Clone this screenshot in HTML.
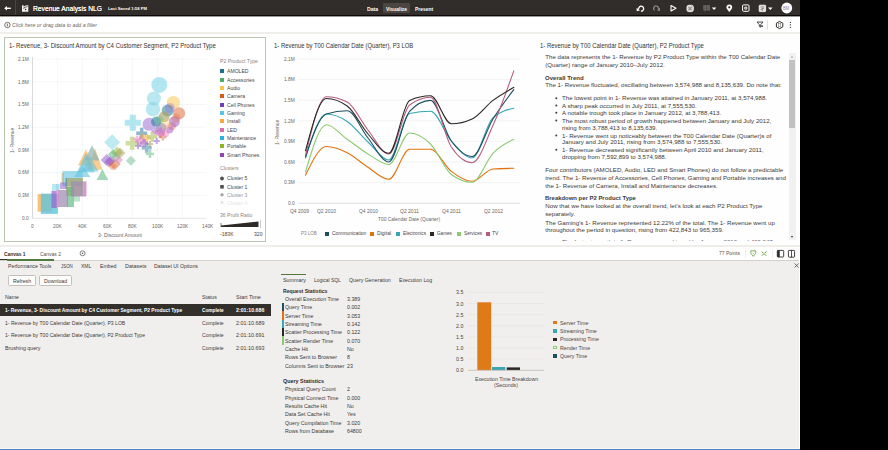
<!DOCTYPE html><html><head><meta charset="utf-8"><style>
html,body{margin:0;padding:0;width:888px;height:450px;overflow:hidden;background:#000;}
body{position:relative;font-family:"Liberation Sans",sans-serif;}
.t{position:absolute;white-space:nowrap;transform-origin:0 0;}
.r{position:absolute;}
svg{position:absolute;left:0;top:0;overflow:visible;}
</style></head><body>
<div class="r" style="left:0px;top:0px;width:800px;height:15px;background:#312d2a;"></div>
<div class="r" style="left:0px;top:15px;width:800px;height:1px;background:#0b0807;"></div>
<div class="r" style="left:0px;top:16px;width:800px;height:1px;background:#9b9895;"></div>
<div class="r" style="left:14.6px;top:0px;width:1px;height:15px;background:#4a4542;"></div>
<div class="t" style="left:33.20px;top:4px;font-size:7.8px;line-height:10.14px;color:#fff;font-weight:400;transform:scaleX(0.860);text-shadow:0 0 0.3px #fff;">Revenue Analysis NLG</div>
<div class="t" style="left:108.00px;top:6px;font-size:4.4px;line-height:5.72px;color:#fff;font-weight:700;transform:scaleX(0.949);">Last Saved 1:58 PM</div>
<div class="r" style="left:383px;top:3px;width:27px;height:10px;background:#4b4642;border-radius:1px;"></div>
<div class="t" style="left:366.60px;top:6px;font-size:5.6px;line-height:7.28px;color:#fff;font-weight:700;transform:scaleX(0.923);">Data</div>
<div class="t" style="left:386.00px;top:6px;font-size:5.6px;line-height:7.28px;color:#fff;font-weight:700;transform:scaleX(0.880);">Visualize</div>
<div class="t" style="left:414.80px;top:6px;font-size:5.6px;line-height:7.28px;color:#fff;font-weight:700;transform:scaleX(0.886);">Present</div>
<div class="r" style="left:0px;top:17px;width:800px;height:15px;background:#ffffff;"></div>
<div class="r" style="left:0px;top:32px;width:800px;height:2px;background:#f0eeeb;"></div>
<div class="t" style="left:12.40px;top:22px;font-size:6.0px;line-height:7.8px;color:#6b6661;font-weight:400;transform:scaleX(0.876);font-style:italic;">Click here or drag data to add a filter</div>
<div class="r" style="left:0px;top:34px;width:800px;height:211px;background:#fefefe;"></div>
<div class="r" style="left:0px;top:245px;width:800px;height:2px;background:#f0eeeb;"></div>
<div class="r" style="left:4px;top:37px;width:261.5px;height:204.5px;background:#ffffff;box-sizing:border-box;border:1px solid #b9c6b1;"></div>
<div class="t" style="left:9.00px;top:42px;font-size:6.6px;line-height:8.58px;color:#36322e;font-weight:400;transform:scaleX(0.918);">1- Revenue, 3- Discount Amount by C4 Customer Segment, P2 Product Type</div>
<svg width="888" height="450" viewBox="0 0 888 450">
<line x1="32.5" y1="218.0" x2="206.5" y2="218.0" stroke="#edf0f1" stroke-width="0.6"/>
<line x1="32.5" y1="195.3" x2="206.5" y2="195.3" stroke="#edf0f1" stroke-width="0.6"/>
<line x1="32.5" y1="172.6" x2="206.5" y2="172.6" stroke="#edf0f1" stroke-width="0.6"/>
<line x1="32.5" y1="149.9" x2="206.5" y2="149.9" stroke="#edf0f1" stroke-width="0.6"/>
<line x1="32.5" y1="127.2" x2="206.5" y2="127.2" stroke="#edf0f1" stroke-width="0.6"/>
<line x1="32.5" y1="104.5" x2="206.5" y2="104.5" stroke="#edf0f1" stroke-width="0.6"/>
<line x1="32.5" y1="81.8" x2="206.5" y2="81.8" stroke="#edf0f1" stroke-width="0.6"/>
<line x1="32.5" y1="59.1" x2="206.5" y2="59.1" stroke="#edf0f1" stroke-width="0.6"/>
<line x1="57.3" y1="57" x2="57.3" y2="218" stroke="#edf0f1" stroke-width="0.6"/>
<line x1="82.3" y1="57" x2="82.3" y2="218" stroke="#edf0f1" stroke-width="0.6"/>
<line x1="107.3" y1="57" x2="107.3" y2="218" stroke="#edf0f1" stroke-width="0.6"/>
<line x1="132.3" y1="57" x2="132.3" y2="218" stroke="#edf0f1" stroke-width="0.6"/>
<line x1="157.3" y1="57" x2="157.3" y2="218" stroke="#edf0f1" stroke-width="0.6"/>
<line x1="182.3" y1="57" x2="182.3" y2="218" stroke="#edf0f1" stroke-width="0.6"/>
<line x1="207.3" y1="57" x2="207.3" y2="218" stroke="#edf0f1" stroke-width="0.6"/>
<line x1="32.5" y1="57" x2="32.5" y2="218.5" stroke="#cfcfcf" stroke-width="0.8"/>
<line x1="31.5" y1="218.4" x2="206.5" y2="218.4" stroke="#dcdcdc" stroke-width="0.6"/>
<rect x="37.6" y="194.1" width="14.4" height="17.6" fill="#f9ad45" fill-opacity="0.75"/>
<rect x="40.8" y="193.6" width="17.1" height="20.3" fill="#62c3de" fill-opacity="0.8"/>
<rect x="52" y="184" width="6.9" height="6.9" fill="#7fd6e6" fill-opacity="0.55"/>
<rect x="56" y="184" width="4.0" height="6.0" fill="#7fd6e6" fill-opacity="0.4"/>
<rect x="61.5" y="173" width="2.5" height="11.0" fill="#f9ad45" fill-opacity="0.6"/>
<rect x="62.5" y="171" width="20.0" height="15.0" fill="#62c3de" fill-opacity="0.6"/>
<rect x="66" y="178" width="17.0" height="18.0" fill="#a89f5a" fill-opacity="0.65"/>
<rect x="65.5" y="178" width="1.5" height="11.0" fill="#2f7ea3" fill-opacity="0.5"/>
<rect x="60" y="182.5" width="6.0" height="6.5" fill="#9363cf" fill-opacity="0.55"/>
<rect x="67" y="187" width="7.0" height="20.0" fill="#5bb87e" fill-opacity="0.65"/>
<rect x="73.5" y="196" width="6.5" height="5.5" fill="#5bb87e" fill-opacity="0.4"/>
<rect x="71" y="181.5" width="15.0" height="15.0" fill="#a060c6" fill-opacity="0.45"/>
<rect x="71" y="181.5" width="15.0" height="15.0" fill="#9aa6a8" fill-opacity="0.35"/>
<rect x="84" y="181.5" width="3.0" height="14.5" fill="#e482c1" fill-opacity="0.4"/>
<rect x="58" y="190" width="10.0" height="17.0" fill="#a060c6" fill-opacity="0.5"/>
<rect x="58" y="190" width="10.0" height="17.0" fill="#9aa6a8" fill-opacity="0.45"/>
<rect x="51.5" y="191" width="5.3" height="17.0" fill="#9363cf" fill-opacity="0.7"/>
<rect x="56.3" y="190" width="2.7" height="17.0" fill="#e482c1" fill-opacity="0.55"/>
<polygon points="85.9,149.6 78.0,165.5 93.80000000000001,165.5" fill="#f9ad45" fill-opacity="0.65"/>
<polygon points="95,148.3 87.5,169.7 102.5,169.7" fill="#f9ad45" fill-opacity="0.6"/>
<polygon points="92,145.3 84.4,160.6 99.6,160.6" fill="#8fb3b3" fill-opacity="0.7"/>
<polygon points="85.9,153.2 77.10000000000001,172.2 94.7,172.2" fill="#62c3de" fill-opacity="0.6"/>
<polygon points="90.2,156.3 81.7,171.6 98.7,171.6" fill="#62c3de" fill-opacity="0.55"/>
<polygon points="82.2,165.5 73.9,177 90.5,177" fill="#62c3de" fill-opacity="0.6"/>
<polygon points="102.4,169.1 96.60000000000001,180.1 108.2,180.1" fill="#5bb87e" fill-opacity="0.55"/>
<polygon points="112.2,134.2 120.2,142.2 112.2,150.2 104.2,142.2" fill="#7fd6e6" fill-opacity="0.5"/>
<polygon points="106.7,154 112.7,160 106.7,166 100.7,160" fill="#9363cf" fill-opacity="0.55"/>
<polygon points="117,146.6 123,152.6 117,158.6 111,152.6" fill="#a0be45" fill-opacity="0.55"/>
<polygon points="112.8,149.4 117.8,154.4 112.8,159.4 107.8,154.4" fill="#5bb87e" fill-opacity="0.55"/>
<polygon points="114.6,158.2 120.6,164.2 114.6,170.2 108.6,164.2" fill="#e0703f" fill-opacity="0.55"/>
<polygon points="110.3,156.2 115.3,161.2 110.3,166.2 105.3,161.2" fill="#a060c6" fill-opacity="0.55"/>
<polygon points="119,156 123,160 119,164 115,160" fill="#e482c1" fill-opacity="0.55"/>
<polygon points="109,157 114,162 109,167 104,162" fill="#a060c6" fill-opacity="0.45"/>
<polygon points="120,147.5 125.5,153 120,158.5 114.5,153" fill="#a89f5a" fill-opacity="0.5"/>
<polygon points="112,161.5 116.5,166 112,170.5 107.5,166" fill="#e0703f" fill-opacity="0.4"/>
<polygon points="116,153.5 120.5,158 116,162.5 111.5,158" fill="#9aa6a8" fill-opacity="0.4"/>
<polygon points="130.9,155.7 135.9,160.7 130.9,165.7 125.9,160.7" fill="#5bb87e" fill-opacity="0.45"/>
<path d="M129.8,114.8h6v5.0h5.0v6h-5.0v5.0h-6v-5.0h-5.0v-6h5.0z" fill="#7fd6e6" fill-opacity="0.6"/>
<path d="M129.95,136.8h4.5v4.25h4.25v4.5h-4.25v4.25h-4.5v-4.25h-4.25v-4.5h4.25z" fill="#a0be45" fill-opacity="0.5"/>
<path d="M139.95,127.80000000000001h3.5v3.75h3.75v3.5h-3.75v3.75h-3.5v-3.75h-3.75v-3.5h3.75z" fill="#2f7ea3" fill-opacity="0.55"/>
<path d="M138.85,135.6h3.5v3.75h3.75v3.5h-3.75v3.75h-3.5v-3.75h-3.75v-3.5h3.75z" fill="#e482c1" fill-opacity="0.55"/>
<path d="M145.2,134.3h3v2.5h2.5v3h-2.5v2.5h-3v-2.5h-2.5v-3h2.5z" fill="#f9ad45" fill-opacity="0.55"/>
<path d="M150.45,131.7h3.5v3.25h3.25v3.5h-3.25v3.25h-3.5v-3.25h-3.25v-3.5h3.25z" fill="#a0be45" fill-opacity="0.55"/>
<path d="M155.7,138.1h2v2.0h2.0v2h-2.0v2.0h-2v-2.0h-2.0v-2h2.0z" fill="#9363cf" fill-opacity="0.55"/>
<path d="M144.95,142.8h3.5v3.25h3.25v3.5h-3.25v3.25h-3.5v-3.25h-3.25v-3.5h3.25z" fill="#2f7ea3" fill-opacity="0.5"/>
<path d="M148.75,149.9h2.5v2.75h2.75v2.5h-2.75v2.75h-2.5v-2.75h-2.75v-2.5h2.75z" fill="#5bb87e" fill-opacity="0.5"/>
<path d="M158.25,127.80000000000001h3.5v3.25h3.25v3.5h-3.25v3.25h-3.5v-3.25h-3.25v-3.5h3.25z" fill="#e482c1" fill-opacity="0.55"/>
<path d="M142.5,139h3v2.5h2.5v3h-2.5v2.5h-3v-2.5h-2.5v-3h2.5z" fill="#a060c6" fill-opacity="0.55"/>
<path d="M137.0,143h2v2.0h2.0v2h-2.0v2.0h-2v-2.0h-2.0v-2h2.0z" fill="#9363cf" fill-opacity="0.55"/>
<path d="M149.0,141h2v2.0h2.0v2h-2.0v2.0h-2v-2.0h-2.0v-2h2.0z" fill="#a89f5a" fill-opacity="0.55"/>
<path d="M159.0,130h3v2.5h2.5v3h-2.5v2.5h-3v-2.5h-2.5v-3h2.5z" fill="#e482c1" fill-opacity="0.6"/>
<path d="M161.75,133.5h2.5v2.25h2.25v2.5h-2.25v2.25h-2.5v-2.25h-2.25v-2.5h2.25z" fill="#e0703f" fill-opacity="0.5"/>
<path d="M153.75,127.5h2.5v2.25h2.25v2.5h-2.25v2.25h-2.5v-2.25h-2.25v-2.5h2.25z" fill="#a060c6" fill-opacity="0.5"/>
<path d="M135.75,135.5h2.5v2.25h2.25v2.5h-2.25v2.25h-2.5v-2.25h-2.25v-2.5h2.25z" fill="#e482c1" fill-opacity="0.5"/>
<path d="M141.9,133h2.2v1.9h1.9v2.2h-1.9v1.9h-2.2v-1.9h-1.9v-2.2h1.9z" fill="#f9ad45" fill-opacity="0.5"/>
<circle cx="166" cy="134" r="3" fill="#e482c1" fill-opacity="0.45"/>
<circle cx="172" cy="126" r="4" fill="#e0703f" fill-opacity="0.4"/>
<circle cx="159.3" cy="84.9" r="8" fill="#7fd6e6" fill-opacity="0.6"/>
<circle cx="153.9" cy="98.5" r="7.1" fill="#7fd6e6" fill-opacity="0.55"/>
<circle cx="153" cy="109.2" r="7.2" fill="#7fd6e6" fill-opacity="0.55"/>
<circle cx="173.4" cy="102.6" r="6.7" fill="#f8c95a" fill-opacity="0.55"/>
<circle cx="179.2" cy="113.2" r="6" fill="#e0703f" fill-opacity="0.55"/>
<circle cx="167.7" cy="110.6" r="6" fill="#2f7ea3" fill-opacity="0.55"/>
<circle cx="170" cy="108" r="5" fill="#9363cf" fill-opacity="0.3"/>
<circle cx="149" cy="124.3" r="6.5" fill="#9363cf" fill-opacity="0.5"/>
<circle cx="156.1" cy="121.7" r="5" fill="#2f7ea3" fill-opacity="0.6"/>
<circle cx="164.1" cy="116.8" r="5.5" fill="#a89f5a" fill-opacity="0.6"/>
<circle cx="174.3" cy="121.7" r="5.5" fill="#a060c6" fill-opacity="0.55"/>
<circle cx="176" cy="118" r="4.5" fill="#e0703f" fill-opacity="0.35"/>
<circle cx="161" cy="127.9" r="5.5" fill="#9aa6a8" fill-opacity="0.5"/>
<circle cx="161" cy="127.9" r="5" fill="#9363cf" fill-opacity="0.35"/>
<circle cx="169" cy="128.8" r="4.5" fill="#e482c1" fill-opacity="0.45"/>
<circle cx="161" cy="132.3" r="4" fill="#e482c1" fill-opacity="0.5"/>
<circle cx="159" cy="120" r="4.5" fill="#5bb87e" fill-opacity="0.35"/>
<circle cx="166" cy="124" r="5" fill="#f8c95a" fill-opacity="0.3"/>
<circle cx="170" cy="130" r="3.5" fill="#9363cf" fill-opacity="0.35"/>
</svg>
<div class="t" style="left:21.84px;top:215px;font-size:5.4px;line-height:7.02px;color:#6b6661;font-weight:400;transform:scaleX(0.900);">0.0</div>
<div class="t" style="left:17.80px;top:192px;font-size:5.4px;line-height:7.02px;color:#6b6661;font-weight:400;transform:scaleX(0.900);">0.3M</div>
<div class="t" style="left:17.80px;top:169px;font-size:5.4px;line-height:7.02px;color:#6b6661;font-weight:400;transform:scaleX(0.900);">0.6M</div>
<div class="t" style="left:17.80px;top:147px;font-size:5.4px;line-height:7.02px;color:#6b6661;font-weight:400;transform:scaleX(0.900);">0.9M</div>
<div class="t" style="left:17.80px;top:124px;font-size:5.4px;line-height:7.02px;color:#6b6661;font-weight:400;transform:scaleX(0.900);">1.2M</div>
<div class="t" style="left:17.80px;top:101px;font-size:5.4px;line-height:7.02px;color:#6b6661;font-weight:400;transform:scaleX(0.900);">1.5M</div>
<div class="t" style="left:17.80px;top:79px;font-size:5.4px;line-height:7.02px;color:#6b6661;font-weight:400;transform:scaleX(0.900);">1.8M</div>
<div class="t" style="left:17.80px;top:56px;font-size:5.4px;line-height:7.02px;color:#6b6661;font-weight:400;transform:scaleX(0.900);">2.1M</div>
<div class="t" style="left:30.95px;top:223px;font-size:5.4px;line-height:7.02px;color:#6b6661;font-weight:400;transform:scaleX(0.900);">0</div>
<div class="t" style="left:52.98px;top:223px;font-size:5.4px;line-height:7.02px;color:#6b6661;font-weight:400;transform:scaleX(0.900);">20K</div>
<div class="t" style="left:77.98px;top:223px;font-size:5.4px;line-height:7.02px;color:#6b6661;font-weight:400;transform:scaleX(0.900);">40K</div>
<div class="t" style="left:102.98px;top:223px;font-size:5.4px;line-height:7.02px;color:#6b6661;font-weight:400;transform:scaleX(0.900);">60K</div>
<div class="t" style="left:127.98px;top:223px;font-size:5.4px;line-height:7.02px;color:#6b6661;font-weight:400;transform:scaleX(0.900);">80K</div>
<div class="t" style="left:151.62px;top:223px;font-size:5.4px;line-height:7.02px;color:#6b6661;font-weight:400;transform:scaleX(0.900);">100K</div>
<div class="t" style="left:176.62px;top:223px;font-size:5.4px;line-height:7.02px;color:#6b6661;font-weight:400;transform:scaleX(0.900);">120K</div>
<div class="t" style="left:201.62px;top:223px;font-size:5.4px;line-height:7.02px;color:#6b6661;font-weight:400;transform:scaleX(0.900);">140K</div>
<div class="t" style="left:97.60px;top:232px;font-size:5.6px;line-height:7.28px;color:#6b6661;font-weight:400;transform:scaleX(0.900);">3- Discount Amount</div>
<div class="t" style="left:8.5px;top:153px;font-size:5.4px;line-height:7px;color:#6b6661;transform:rotate(-90deg) scaleX(0.9);transform-origin:0 0;">1- Revenue</div>
<div class="r" style="left:207px;top:55px;width:57px;height:162px;background:#ffffff;"></div>
<div class="t" style="left:220.00px;top:58px;font-size:5.6px;line-height:7.28px;color:#8a8580;font-weight:400;transform:scaleX(0.920);">P2 Product Type</div>
<div class="r" style="left:220px;top:69.4px;width:4px;height:4px;background:#1e7088;"></div>
<div class="t" style="left:227.00px;top:68px;font-size:5.6px;line-height:7.28px;color:#4a4541;font-weight:400;transform:scaleX(0.910);">AMOLED</div>
<div class="r" style="left:220px;top:77.73px;width:4px;height:4px;background:#4cae6b;"></div>
<div class="t" style="left:227.00px;top:77px;font-size:5.6px;line-height:7.28px;color:#4a4541;font-weight:400;transform:scaleX(0.910);">Accessories</div>
<div class="r" style="left:220px;top:86.06px;width:4px;height:4px;background:#f7c64c;"></div>
<div class="t" style="left:227.00px;top:85px;font-size:5.6px;line-height:7.28px;color:#4a4541;font-weight:400;transform:scaleX(0.910);">Audio</div>
<div class="r" style="left:220px;top:94.39000000000001px;width:4px;height:4px;background:#d65a1e;"></div>
<div class="t" style="left:227.00px;top:93px;font-size:5.6px;line-height:7.28px;color:#4a4541;font-weight:400;transform:scaleX(0.910);">Camera</div>
<div class="r" style="left:220px;top:102.72px;width:4px;height:4px;background:#6f3fc2;"></div>
<div class="t" style="left:227.00px;top:102px;font-size:5.6px;line-height:7.28px;color:#4a4541;font-weight:400;transform:scaleX(0.910);">Cell Phones</div>
<div class="r" style="left:220px;top:111.05000000000001px;width:4px;height:4px;background:#5ac5e3;"></div>
<div class="t" style="left:227.00px;top:110px;font-size:5.6px;line-height:7.28px;color:#4a4541;font-weight:400;transform:scaleX(0.910);">Gaming</div>
<div class="r" style="left:220px;top:119.38000000000001px;width:4px;height:4px;background:#f9a93a;"></div>
<div class="t" style="left:227.00px;top:118px;font-size:5.6px;line-height:7.28px;color:#4a4541;font-weight:400;transform:scaleX(0.910);">Install</div>
<div class="r" style="left:220px;top:127.71000000000001px;width:4px;height:4px;background:#dd6ab0;"></div>
<div class="t" style="left:227.00px;top:127px;font-size:5.6px;line-height:7.28px;color:#4a4541;font-weight:400;transform:scaleX(0.910);">LED</div>
<div class="r" style="left:220px;top:136.04000000000002px;width:4px;height:4px;background:#2bb0e8;"></div>
<div class="t" style="left:227.00px;top:135px;font-size:5.6px;line-height:7.28px;color:#4a4541;font-weight:400;transform:scaleX(0.910);">Maintenance</div>
<div class="r" style="left:220px;top:144.37px;width:4px;height:4px;background:#8fb323;"></div>
<div class="t" style="left:227.00px;top:143px;font-size:5.6px;line-height:7.28px;color:#4a4541;font-weight:400;transform:scaleX(0.910);">Portable</div>
<div class="r" style="left:220px;top:152.7px;width:4px;height:4px;background:#8e45b6;"></div>
<div class="t" style="left:227.00px;top:152px;font-size:5.6px;line-height:7.28px;color:#4a4541;font-weight:400;transform:scaleX(0.910);">Smart Phones</div>
<div class="t" style="left:220.00px;top:165px;font-size:5.6px;line-height:7.28px;color:#8a8580;font-weight:400;transform:scaleX(0.910);">Clusters</div>
<svg width="888" height="450"><circle cx="222" cy="178.5" r="1.9" fill="#55504b"/><rect x="220.2" y="185" width="3.6" height="3.6" fill="#55504b"/><path d="M221.4,193 h1.2 v1.2 h1.2 v1.2 h-1.2 v1.2 h-1.2 v-1.2 h-1.2 v-1.2 h1.2z" fill="#9a9590"/><path d="M222,200.5 l1.8,3 h-3.6z" fill="#dedbd8"/></svg>
<div class="t" style="left:227.00px;top:175px;font-size:5.6px;line-height:7.28px;color:#4a4541;font-weight:400;transform:scaleX(0.910);">Cluster 5</div>
<div class="t" style="left:227.00px;top:184px;font-size:5.6px;line-height:7.28px;color:#4a4541;font-weight:400;transform:scaleX(0.910);">Cluster 1</div>
<div class="t" style="left:227.00px;top:192px;font-size:5.6px;line-height:7.28px;color:#9a9590;font-weight:400;transform:scaleX(0.910);">Cluster 3</div>
<div class="t" style="left:227.00px;top:200px;font-size:5.6px;line-height:7.28px;color:#e6e4e1;font-weight:400;transform:scaleX(0.910);">Cluster 4</div>
<div class="r" style="left:207px;top:205px;width:57px;height:6px;background:#ffffff;opacity:0.6;"></div>
<div class="t" style="left:220.00px;top:212px;font-size:5.6px;line-height:7.28px;color:#8a8580;font-weight:400;transform:scaleX(0.910);">36 Profit Ratio</div>
<svg width="888" height="450"><path d="M221,225.5 L258.5,221.5 L258.5,227 L221,227 Z" fill="#2e2a26"/><line x1="221" y1="223" x2="221" y2="227" stroke="#2e2a26" stroke-width="0.6"/><line x1="260.5" y1="220.5" x2="260.5" y2="227.5" stroke="#2e2a26" stroke-width="0.5" stroke-dasharray="1,1"/></svg>
<div class="t" style="left:220.00px;top:231px;font-size:5.6px;line-height:7.28px;color:#4a4541;font-weight:400;transform:scaleX(0.910);">-183K</div>
<div class="t" style="left:253.50px;top:231px;font-size:5.6px;line-height:7.28px;color:#4a4541;font-weight:400;transform:scaleX(0.910);">320</div>
<div class="t" style="left:273.80px;top:42px;font-size:6.6px;line-height:8.58px;color:#36322e;font-weight:400;transform:scaleX(0.895);">1- Revenue by T00 Calendar Date (Quarter), P3 LOB</div>
<svg width="888" height="450" viewBox="0 0 888 450">
<line x1="298.5" y1="182.6" x2="520" y2="182.6" stroke="#ebebeb" stroke-width="0.6"/>
<line x1="298.5" y1="162.0" x2="520" y2="162.0" stroke="#ebebeb" stroke-width="0.6"/>
<line x1="298.5" y1="141.4" x2="520" y2="141.4" stroke="#ebebeb" stroke-width="0.6"/>
<line x1="298.5" y1="120.8" x2="520" y2="120.8" stroke="#ebebeb" stroke-width="0.6"/>
<line x1="298.5" y1="100.2" x2="520" y2="100.2" stroke="#ebebeb" stroke-width="0.6"/>
<line x1="298.5" y1="79.6" x2="520" y2="79.6" stroke="#ebebeb" stroke-width="0.6"/>
<line x1="298.5" y1="59.0" x2="520" y2="59.0" stroke="#ebebeb" stroke-width="0.6"/>
<line x1="298.5" y1="203.3" x2="520" y2="203.3" stroke="#cfcfcf" stroke-width="0.7"/>
<path d="M305.5,175.3 C312.44,160.90 319.39,146.50 326.3,146.5 C333.27,146.50 340.22,149.23 347.2,152.7 C354.10,156.17 361.05,162.87 368.0,167.3 C374.93,171.73 381.88,179.30 388.8,179.3 C395.76,179.30 402.71,149.30 409.6,149.3 C416.59,149.30 423.54,149.30 430.5,149.3 C437.42,149.30 444.37,166.07 451.3,171.4 C458.25,176.73 465.20,181.30 472.1,181.3 C479.08,181.30 486.03,169.47 493.0,169.0 C499.91,168.53 506.86,168.42 513.8,168.3" fill="none" stroke="#e2720f" stroke-width="1.1" stroke-linejoin="round" stroke-linecap="round"/>
<path d="M305.5,172.0 C312.44,148.35 319.39,124.70 326.3,124.7 C333.27,124.70 340.22,134.42 347.2,139.3 C354.10,144.18 361.05,149.80 368.0,154.0 C374.93,158.20 381.88,164.50 388.8,164.5 C395.76,164.50 402.71,133.00 409.6,133.0 C416.59,133.00 423.54,137.08 430.5,144.0 C437.42,150.92 444.37,169.30 451.3,174.5 C458.25,179.70 465.20,182.30 472.1,182.3 C479.08,182.30 486.03,160.47 493.0,153.3 C499.91,146.13 506.86,142.72 513.8,139.3" fill="none" stroke="#8dc872" stroke-width="1.1" stroke-linejoin="round" stroke-linecap="round"/>
<path d="M305.5,158.0 C312.44,136.00 319.39,114.00 326.3,114.0 C333.27,114.00 340.22,116.83 347.2,121.5 C354.10,126.17 361.05,135.58 368.0,142.0 C374.93,148.42 381.88,160.00 388.8,160.0 C395.76,160.00 402.71,114.97 409.6,113.5 C416.59,112.03 423.54,111.30 430.5,111.3 C437.42,111.30 444.37,133.22 451.3,141.0 C458.25,148.78 465.20,158.00 472.1,158.0 C479.08,158.00 486.03,123.87 493.0,117.6 C499.91,111.33 506.86,109.77 513.8,108.2" fill="none" stroke="#35a7b5" stroke-width="1.1" stroke-linejoin="round" stroke-linecap="round"/>
<path d="M305.5,156.7 C312.44,136.42 319.39,116.13 326.3,114.0 C333.27,111.87 340.22,110.80 347.2,110.8 C354.10,110.80 361.05,129.47 368.0,138.0 C374.93,146.53 381.88,162.00 388.8,162.0 C395.76,162.00 402.71,118.57 409.6,111.3 C416.59,104.03 423.54,100.40 430.5,100.4 C437.42,100.40 444.37,131.65 451.3,141.0 C458.25,150.35 465.20,156.50 472.1,156.5 C479.08,156.50 486.03,130.15 493.0,119.0 C499.91,107.85 506.86,98.72 513.8,89.6" fill="none" stroke="#1d4f5f" stroke-width="1.1" stroke-linejoin="round" stroke-linecap="round"/>
<path d="M305.5,155.3 C312.44,126.00 319.39,96.70 326.3,96.7 C333.27,96.70 340.22,98.47 347.2,102.0 C354.10,105.53 361.05,121.33 368.0,130.0 C374.93,138.67 381.88,154.00 388.8,154.0 C395.76,154.00 402.71,110.13 409.6,105.0 C416.59,99.87 423.54,97.30 430.5,97.3 C437.42,97.30 444.37,136.53 451.3,147.0 C458.25,157.47 465.20,162.70 472.1,162.7 C479.08,162.70 486.03,140.60 493.0,125.3 C499.91,110.00 506.86,90.45 513.8,70.9" fill="none" stroke="#b85c7e" stroke-width="1.1" stroke-linejoin="round" stroke-linecap="round"/>
<path d="M305.5,150.8 C312.44,124.65 319.39,98.50 326.3,98.5 C333.27,98.50 340.22,101.00 347.2,106.0 C354.10,111.00 361.05,126.12 368.0,134.0 C374.93,141.88 381.88,153.30 388.8,153.3 C395.76,153.30 402.71,103.47 409.6,100.4 C416.59,97.33 423.54,95.80 430.5,95.8 C437.42,95.80 444.37,123.80 451.3,123.8 C458.25,123.80 465.20,122.20 472.1,119.0 C479.08,115.80 486.03,105.67 493.0,100.4 C499.91,95.13 506.86,91.27 513.8,87.4" fill="none" stroke="#2b2724" stroke-width="1.1" stroke-linejoin="round" stroke-linecap="round"/>
</svg>
<div class="t" style="left:287.84px;top:200px;font-size:5.4px;line-height:7.02px;color:#6b6661;font-weight:400;transform:scaleX(0.900);">0.0</div>
<div class="t" style="left:283.80px;top:179px;font-size:5.4px;line-height:7.02px;color:#6b6661;font-weight:400;transform:scaleX(0.900);">0.3M</div>
<div class="t" style="left:283.80px;top:159px;font-size:5.4px;line-height:7.02px;color:#6b6661;font-weight:400;transform:scaleX(0.900);">0.6M</div>
<div class="t" style="left:283.80px;top:138px;font-size:5.4px;line-height:7.02px;color:#6b6661;font-weight:400;transform:scaleX(0.900);">0.9M</div>
<div class="t" style="left:283.80px;top:118px;font-size:5.4px;line-height:7.02px;color:#6b6661;font-weight:400;transform:scaleX(0.900);">1.2M</div>
<div class="t" style="left:283.80px;top:97px;font-size:5.4px;line-height:7.02px;color:#6b6661;font-weight:400;transform:scaleX(0.900);">1.5M</div>
<div class="t" style="left:283.80px;top:76px;font-size:5.4px;line-height:7.02px;color:#6b6661;font-weight:400;transform:scaleX(0.900);">1.8M</div>
<div class="t" style="left:283.80px;top:56px;font-size:5.4px;line-height:7.02px;color:#6b6661;font-weight:400;transform:scaleX(0.900);">2.1M</div>
<div class="t" style="left:289.70px;top:208px;font-size:5.4px;line-height:7.02px;color:#6b6661;font-weight:400;transform:scaleX(0.912);">Q4 2009</div>
<div class="t" style="left:316.85px;top:208px;font-size:5.4px;line-height:7.02px;color:#6b6661;font-weight:400;transform:scaleX(0.912);">Q2 2010</div>
<div class="t" style="left:358.55px;top:208px;font-size:5.4px;line-height:7.02px;color:#6b6661;font-weight:400;transform:scaleX(0.912);">Q4 2010</div>
<div class="t" style="left:400.25px;top:208px;font-size:5.4px;line-height:7.02px;color:#6b6661;font-weight:400;transform:scaleX(0.930);">Q2 2011</div>
<div class="t" style="left:441.85px;top:208px;font-size:5.4px;line-height:7.02px;color:#6b6661;font-weight:400;transform:scaleX(0.930);">Q4 2011</div>
<div class="t" style="left:483.55px;top:208px;font-size:5.4px;line-height:7.02px;color:#6b6661;font-weight:400;transform:scaleX(0.912);">Q2 2012</div>
<div class="t" style="left:377.54px;top:216px;font-size:5.4px;line-height:7.02px;color:#6b6661;font-weight:400;transform:scaleX(0.900);">T00 Calendar Date (Quarter)</div>
<div class="t" style="left:273.5px;top:144.5px;font-size:5.4px;line-height:7px;color:#6b6661;transform:rotate(-90deg) scaleX(0.9);transform-origin:0 0;">1- Revenue</div>
<div class="t" style="left:300.70px;top:230px;font-size:5.4px;line-height:7.02px;color:#8a8580;font-weight:400;transform:scaleX(0.841);">P3 LOB</div>
<div class="r" style="left:324.6px;top:231.6px;width:4px;height:4px;background:#1d4f5f;"></div>
<div class="t" style="left:331.60px;top:230px;font-size:5.4px;line-height:7.02px;color:#4a4541;font-weight:400;transform:scaleX(0.914);">Communication</div>
<div class="r" style="left:370.2px;top:231.6px;width:4px;height:4px;background:#e2720f;"></div>
<div class="t" style="left:376.60px;top:230px;font-size:5.4px;line-height:7.02px;color:#4a4541;font-weight:400;transform:scaleX(0.940);">Digital</div>
<div class="r" style="left:395.5px;top:231.6px;width:4px;height:4px;background:#35a7b5;"></div>
<div class="t" style="left:402.60px;top:230px;font-size:5.4px;line-height:7.02px;color:#4a4541;font-weight:400;transform:scaleX(0.875);">Electronics</div>
<div class="r" style="left:430.2px;top:231.6px;width:4px;height:4px;background:#2b2724;"></div>
<div class="t" style="left:437.30px;top:230px;font-size:5.4px;line-height:7.02px;color:#4a4541;font-weight:400;transform:scaleX(0.856);">Games</div>
<div class="r" style="left:457px;top:231.6px;width:4px;height:4px;background:#8dc872;"></div>
<div class="t" style="left:463.60px;top:230px;font-size:5.4px;line-height:7.02px;color:#4a4541;font-weight:400;transform:scaleX(0.879);">Services</div>
<div class="r" style="left:486px;top:231.6px;width:4px;height:4px;background:#b85c7e;"></div>
<div class="t" style="left:492.40px;top:230px;font-size:5.4px;line-height:7.02px;color:#4a4541;font-weight:400;transform:scaleX(0.927);">TV</div>
<div class="t" style="left:539.60px;top:42px;font-size:6.6px;line-height:8.58px;color:#36322e;font-weight:400;transform:scaleX(0.904);">1- Revenue by T00 Calendar Date (Quarter), P2 Product Type</div>
<div class="t" style="left:545.30px;top:53px;font-size:6.15px;line-height:8.0px;color:#3d3935;font-weight:400;">The data represents the 1- Revenue by P2 Product Type within the T00 Calendar Date</div>
<div class="t" style="left:545.30px;top:61px;font-size:6.15px;line-height:8.0px;color:#3d3935;font-weight:400;">(Quarter) range of January 2010&ndash;July 2012.</div>
<div class="t" style="left:545.30px;top:74px;font-size:6.15px;line-height:8.0px;color:#3d3935;font-weight:700;transform:scaleX(0.985);">Overall Trend</div>
<div class="t" style="left:545.30px;top:81px;font-size:6.15px;line-height:8.0px;color:#3d3935;font-weight:400;">The 1- Revenue fluctuated, oscillating between 3,574,988 and 8,135,639. Do note that:</div>
<div class="t" style="left:562.00px;top:94px;font-size:6.15px;line-height:8.0px;color:#3d3935;font-weight:400;">The lowest point in 1- Revenue was attained in January 2011, at 3,574,988.</div>
<div class="t" style="left:562.00px;top:102px;font-size:6.15px;line-height:8.0px;color:#3d3935;font-weight:400;">A sharp peak occurred in July 2011, at 7,555,530.</div>
<div class="t" style="left:562.00px;top:109px;font-size:6.15px;line-height:8.0px;color:#3d3935;font-weight:400;">A notable trough took place in January 2012, at 3,788,413.</div>
<div class="t" style="left:562.00px;top:117px;font-size:6.15px;line-height:8.0px;color:#3d3935;font-weight:400;">The most robust period of growth happened between January and July 2012,</div>
<div class="t" style="left:562.00px;top:124px;font-size:6.15px;line-height:8.0px;color:#3d3935;font-weight:400;">rising from 3,788,413 to 8,135,639.</div>
<div class="t" style="left:562.00px;top:132px;font-size:6.15px;line-height:8.0px;color:#3d3935;font-weight:400;">1- Revenue went up noticeably between the T00 Calendar Date (Quarter)s of</div>
<div class="t" style="left:562.00px;top:138px;font-size:6.15px;line-height:8.0px;color:#3d3935;font-weight:400;">January and July 2011, rising from 3,574,988 to 7,555,530.</div>
<div class="t" style="left:562.00px;top:146px;font-size:6.15px;line-height:8.0px;color:#3d3935;font-weight:400;">1- Revenue decreased significantly between April 2010 and January 2011,</div>
<div class="t" style="left:562.00px;top:153px;font-size:6.15px;line-height:8.0px;color:#3d3935;font-weight:400;">dropping from 7,592,899 to 3,574,988.</div>
<div class="t" style="left:545.30px;top:166px;font-size:6.15px;line-height:8.0px;color:#3d3935;font-weight:400;">Four contributors (AMOLED, Audio, LED and Smart Phones) do not follow a predictable</div>
<div class="t" style="left:545.30px;top:174px;font-size:6.15px;line-height:8.0px;color:#3d3935;font-weight:400;">trend. The 1- Revenue of Accessories, Cell Phones, Gaming and Portable increases and</div>
<div class="t" style="left:545.30px;top:182px;font-size:6.15px;line-height:8.0px;color:#3d3935;font-weight:400;">the 1- Revenue of Camera, Install and Maintenance decreases.</div>
<div class="t" style="left:545.30px;top:194px;font-size:6.15px;line-height:8.0px;color:#3d3935;font-weight:700;transform:scaleX(0.966);">Breakdown per P2 Product Type</div>
<div class="t" style="left:545.30px;top:202px;font-size:6.15px;line-height:8.0px;color:#3d3935;font-weight:400;">Now that we have looked at the overall trend, let&rsquo;s look at each P2 Product Type</div>
<div class="t" style="left:545.30px;top:210px;font-size:6.15px;line-height:8.0px;color:#3d3935;font-weight:400;">separately.</div>
<div class="t" style="left:545.30px;top:219px;font-size:6.15px;line-height:8.0px;color:#3d3935;font-weight:400;">The Gaming&rsquo;s 1- Revenue represented 12.22% of the total. The 1- Revenue went up</div>
<div class="t" style="left:545.30px;top:226px;font-size:6.15px;line-height:8.0px;color:#3d3935;font-weight:400;">throughout the period in question, rising from 422,843 to 965,359.</div>
<svg width="888" height="450"><circle cx="556.3" cy="98.2" r="1" fill="#3d3935"/><circle cx="556.3" cy="105.5" r="1" fill="#3d3935"/><circle cx="556.3" cy="112.8" r="1" fill="#3d3935"/><circle cx="556.3" cy="120.5" r="1" fill="#3d3935"/><circle cx="556.3" cy="135.4" r="1" fill="#3d3935"/><circle cx="556.3" cy="149.7" r="1" fill="#3d3935"/></svg>
<div style="position:absolute;left:540px;top:239.6px;width:245px;height:1.6px;overflow:hidden;opacity:0.8">
<div class="t" style="left:22.00px;top:-2px;font-size:6.1px;line-height:7.93px;color:#3d3935;font-weight:400;">The fastest growth in 1- Revenue was achieved by January 2010 and 409,247</div>
</div>
<div class="r" style="left:788.5px;top:53px;width:7px;height:187px;background:#f1f1f1;"></div>
<div class="r" style="left:789.3px;top:60px;width:5.4px;height:67.5px;background:#c1c1c1;"></div>
<svg width="888" height="450"><path d="M790.6,57.6 L792,56 L793.4,57.6z" fill="#a3a3a3"/><path d="M790.6,236 L792,237.8 L793.4,236z" fill="#505050"/></svg>
<div class="r" style="left:0px;top:247px;width:800px;height:13px;background:#ffffff;"></div>
<div class="t" style="left:4.40px;top:251px;font-size:5.6px;line-height:7.28px;color:#312d2a;font-weight:700;transform:scaleX(0.878);">Canvas 1</div>
<div class="t" style="left:40.00px;top:251px;font-size:5.6px;line-height:7.28px;color:#55504b;font-weight:400;transform:scaleX(0.888);">Canvas 2</div>
<div class="r" style="left:0px;top:259px;width:30px;height:1px;background:#312d2a;"></div>
<div class="r" style="left:0px;top:260px;width:800px;height:188px;background:#f1efed;"></div>
<div class="r" style="left:0px;top:260px;width:800px;height:1px;background:#d3d0cc;"></div>
<div class="r" style="left:0px;top:448px;width:800px;height:1px;background:#fbf8f3;"></div>
<div class="r" style="left:0px;top:449px;width:800px;height:1px;background:#4a82bd;"></div>
<div class="r" style="left:799px;top:260px;width:1px;height:188px;background:#ffffff;"></div>
<div class="r" style="left:6.8px;top:259.3px;width:47px;height:2px;background:#4f7b3f;"></div>
<div class="t" style="left:8.40px;top:263px;font-size:6.0px;line-height:7.8px;color:#3d3935;font-weight:400;transform:scaleX(0.870);">Performance Tools</div>
<div class="t" style="left:60.80px;top:263px;font-size:6.0px;line-height:7.8px;color:#3d3935;font-weight:400;transform:scaleX(0.737);">JSON</div>
<div class="t" style="left:81.00px;top:263px;font-size:6.0px;line-height:7.8px;color:#3d3935;font-weight:400;transform:scaleX(0.827);">XML</div>
<div class="t" style="left:100.00px;top:263px;font-size:6.0px;line-height:7.8px;color:#3d3935;font-weight:400;transform:scaleX(0.868);">Embed</div>
<div class="t" style="left:125.00px;top:263px;font-size:6.0px;line-height:7.8px;color:#3d3935;font-weight:400;transform:scaleX(0.908);">Datasets</div>
<div class="t" style="left:153.70px;top:263px;font-size:6.0px;line-height:7.8px;color:#3d3935;font-weight:400;transform:scaleX(0.866);">Dataset UI Options</div>
<div class="r" style="left:8.1px;top:275.1px;width:27.7px;height:10.5px;background:#fcfcfb;box-sizing:border-box;border:0.7px solid #c4bfba;border-radius:1.5px;"></div>
<div class="r" style="left:39.2px;top:275.1px;width:32.4px;height:10.5px;background:#fcfcfb;box-sizing:border-box;border:0.7px solid #c4bfba;border-radius:1.5px;"></div>
<div class="t" style="left:13.00px;top:278px;font-size:6.0px;line-height:7.8px;color:#3d3935;font-weight:400;transform:scaleX(0.857);">Refresh</div>
<div class="t" style="left:43.90px;top:278px;font-size:6.0px;line-height:7.8px;color:#3d3935;font-weight:400;transform:scaleX(0.866);">Download</div>
<div class="t" style="left:4.70px;top:294px;font-size:6.0px;line-height:7.8px;color:#3d3935;font-weight:400;transform:scaleX(0.875);">Name</div>
<div class="t" style="left:202.00px;top:294px;font-size:6.0px;line-height:7.8px;color:#3d3935;font-weight:400;transform:scaleX(0.870);">Status</div>
<div class="t" style="left:235.90px;top:294px;font-size:6.0px;line-height:7.8px;color:#3d3935;font-weight:400;transform:scaleX(0.907);">Start Time</div>
<div class="r" style="left:0px;top:304.2px;width:270.9px;height:11.8px;background:#33302c;"></div>
<div class="t" style="left:5.20px;top:307px;font-size:6.0px;line-height:7.8px;color:#ffffff;font-weight:700;transform:scaleX(0.817);">1- Revenue, 3- Discount Amount by C4 Customer Segment, P2 Product Type</div>
<div class="t" style="left:202.00px;top:307px;font-size:6.0px;line-height:7.8px;color:#ffffff;font-weight:700;transform:scaleX(0.790);">Complete</div>
<div class="t" style="left:235.90px;top:307px;font-size:6.0px;line-height:7.8px;color:#ffffff;font-weight:700;transform:scaleX(0.878);">2:01:10.686</div>
<div class="t" style="left:5.20px;top:320px;font-size:6.0px;line-height:7.8px;color:#3d3935;font-weight:400;transform:scaleX(0.849);">1- Revenue by T00 Calendar Date (Quarter), P3 LOB</div>
<div class="t" style="left:202.00px;top:320px;font-size:6.0px;line-height:7.8px;color:#3d3935;font-weight:400;transform:scaleX(0.841);">Complete</div>
<div class="t" style="left:235.90px;top:320px;font-size:6.0px;line-height:7.8px;color:#3d3935;font-weight:400;transform:scaleX(0.896);">2:01:10.689</div>
<div class="t" style="left:5.20px;top:332px;font-size:6.0px;line-height:7.8px;color:#3d3935;font-weight:400;transform:scaleX(0.849);">1- Revenue by T00 Calendar Date (Quarter), P2 Product Type</div>
<div class="t" style="left:202.00px;top:332px;font-size:6.0px;line-height:7.8px;color:#3d3935;font-weight:400;transform:scaleX(0.841);">Complete</div>
<div class="t" style="left:235.90px;top:332px;font-size:6.0px;line-height:7.8px;color:#3d3935;font-weight:400;transform:scaleX(0.896);">2:01:10.691</div>
<div class="t" style="left:5.20px;top:345px;font-size:6.0px;line-height:7.8px;color:#3d3935;font-weight:400;transform:scaleX(0.880);">Brushing query</div>
<div class="t" style="left:202.00px;top:345px;font-size:6.0px;line-height:7.8px;color:#3d3935;font-weight:400;transform:scaleX(0.841);">Complete</div>
<div class="t" style="left:235.90px;top:345px;font-size:6.0px;line-height:7.8px;color:#3d3935;font-weight:400;transform:scaleX(0.896);">2:01:10.693</div>
<div class="r" style="left:280.9px;top:273.8px;width:25.5px;height:1px;background:#4f7b3f;"></div>
<div class="t" style="left:282.50px;top:277px;font-size:6.0px;line-height:7.8px;color:#3d3935;font-weight:400;transform:scaleX(0.892);">Summary</div>
<div class="t" style="left:313.70px;top:277px;font-size:6.0px;line-height:7.8px;color:#3d3935;font-weight:400;transform:scaleX(0.820);">Logical SQL</div>
<div class="t" style="left:348.90px;top:277px;font-size:6.0px;line-height:7.8px;color:#3d3935;font-weight:400;transform:scaleX(0.876);">Query Generation</div>
<div class="t" style="left:398.70px;top:277px;font-size:6.0px;line-height:7.8px;color:#3d3935;font-weight:400;transform:scaleX(0.873);">Execution Log</div>
<div class="t" style="left:283.00px;top:288px;font-size:6.0px;line-height:7.8px;color:#2d2a27;font-weight:700;transform:scaleX(0.855);">Request Statistics</div>
<div class="t" style="left:285.10px;top:296px;font-size:6.0px;line-height:7.8px;color:#3d3935;font-weight:400;transform:scaleX(0.875);">Overall Execution Time</div>
<div class="t" style="left:346.90px;top:296px;font-size:6.0px;line-height:7.8px;color:#3d3935;font-weight:400;transform:scaleX(0.875);">3.389</div>
<div class="r" style="left:282.3px;top:303.12999999999994px;width:1.6px;height:8.33px;background:#1d4f5f;"></div>
<div class="t" style="left:285.10px;top:304px;font-size:6.0px;line-height:7.8px;color:#3d3935;font-weight:400;transform:scaleX(0.875);">Query Time</div>
<div class="t" style="left:346.90px;top:304px;font-size:6.0px;line-height:7.8px;color:#3d3935;font-weight:400;transform:scaleX(0.875);">0.002</div>
<div class="r" style="left:282.3px;top:311.46px;width:1.6px;height:8.33px;background:#e2720f;"></div>
<div class="t" style="left:285.10px;top:313px;font-size:6.0px;line-height:7.8px;color:#3d3935;font-weight:400;transform:scaleX(0.875);">Server Time</div>
<div class="t" style="left:346.90px;top:313px;font-size:6.0px;line-height:7.8px;color:#3d3935;font-weight:400;transform:scaleX(0.875);">3.053</div>
<div class="r" style="left:282.3px;top:319.78999999999996px;width:1.6px;height:8.33px;background:#35a7b5;"></div>
<div class="t" style="left:285.10px;top:321px;font-size:6.0px;line-height:7.8px;color:#3d3935;font-weight:400;transform:scaleX(0.875);">Streaming Time</div>
<div class="t" style="left:346.90px;top:321px;font-size:6.0px;line-height:7.8px;color:#3d3935;font-weight:400;transform:scaleX(0.875);">0.142</div>
<div class="r" style="left:282.3px;top:328.11999999999995px;width:1.6px;height:8.33px;background:#2b2724;"></div>
<div class="t" style="left:285.10px;top:329px;font-size:6.0px;line-height:7.8px;color:#3d3935;font-weight:400;transform:scaleX(0.875);">Scatter Processing Time</div>
<div class="t" style="left:346.90px;top:329px;font-size:6.0px;line-height:7.8px;color:#3d3935;font-weight:400;transform:scaleX(0.875);">0.122</div>
<div class="r" style="left:282.3px;top:336.44999999999993px;width:1.6px;height:8.33px;background:#8dc872;"></div>
<div class="t" style="left:285.10px;top:338px;font-size:6.0px;line-height:7.8px;color:#3d3935;font-weight:400;transform:scaleX(0.875);">Scatter Render Time</div>
<div class="t" style="left:346.90px;top:338px;font-size:6.0px;line-height:7.8px;color:#3d3935;font-weight:400;transform:scaleX(0.875);">0.070</div>
<div class="t" style="left:285.10px;top:346px;font-size:6.0px;line-height:7.8px;color:#3d3935;font-weight:400;transform:scaleX(0.875);">Cache Hit</div>
<div class="t" style="left:346.90px;top:346px;font-size:6.0px;line-height:7.8px;color:#3d3935;font-weight:400;transform:scaleX(0.875);">No</div>
<div class="t" style="left:285.10px;top:354px;font-size:6.0px;line-height:7.8px;color:#3d3935;font-weight:400;transform:scaleX(0.875);">Rows Sent to Browser</div>
<div class="t" style="left:346.90px;top:354px;font-size:6.0px;line-height:7.8px;color:#3d3935;font-weight:400;transform:scaleX(0.875);">8</div>
<div class="t" style="left:285.10px;top:363px;font-size:6.0px;line-height:7.8px;color:#3d3935;font-weight:400;transform:scaleX(0.875);">Columns Sent to Browser</div>
<div class="t" style="left:346.90px;top:363px;font-size:6.0px;line-height:7.8px;color:#3d3935;font-weight:400;transform:scaleX(0.875);">23</div>
<div class="t" style="left:283.00px;top:378px;font-size:6.0px;line-height:7.8px;color:#2d2a27;font-weight:700;transform:scaleX(0.900);">Query Statistics</div>
<div class="t" style="left:285.10px;top:386px;font-size:6.0px;line-height:7.8px;color:#3d3935;font-weight:400;transform:scaleX(0.875);">Physical Query Count</div>
<div class="t" style="left:346.90px;top:386px;font-size:6.0px;line-height:7.8px;color:#3d3935;font-weight:400;transform:scaleX(0.875);">2</div>
<div class="t" style="left:285.10px;top:395px;font-size:6.0px;line-height:7.8px;color:#3d3935;font-weight:400;transform:scaleX(0.875);">Physical Connect Time</div>
<div class="t" style="left:346.90px;top:395px;font-size:6.0px;line-height:7.8px;color:#3d3935;font-weight:400;transform:scaleX(0.875);">0.000</div>
<div class="t" style="left:285.10px;top:403px;font-size:6.0px;line-height:7.8px;color:#3d3935;font-weight:400;transform:scaleX(0.875);">Results Cache Hit</div>
<div class="t" style="left:346.90px;top:403px;font-size:6.0px;line-height:7.8px;color:#3d3935;font-weight:400;transform:scaleX(0.875);">No</div>
<div class="t" style="left:285.10px;top:411px;font-size:6.0px;line-height:7.8px;color:#3d3935;font-weight:400;transform:scaleX(0.875);">Data Set Cache Hit</div>
<div class="t" style="left:346.90px;top:411px;font-size:6.0px;line-height:7.8px;color:#3d3935;font-weight:400;transform:scaleX(0.875);">Yes</div>
<div class="t" style="left:285.10px;top:420px;font-size:6.0px;line-height:7.8px;color:#3d3935;font-weight:400;transform:scaleX(0.875);">Query Compilation Time</div>
<div class="t" style="left:346.90px;top:420px;font-size:6.0px;line-height:7.8px;color:#3d3935;font-weight:400;transform:scaleX(0.875);">3.020</div>
<div class="t" style="left:285.10px;top:428px;font-size:6.0px;line-height:7.8px;color:#3d3935;font-weight:400;transform:scaleX(0.875);">Rows from Database</div>
<div class="t" style="left:346.90px;top:428px;font-size:6.0px;line-height:7.8px;color:#3d3935;font-weight:400;transform:scaleX(0.875);">64800</div>
<svg width="888" height="450">
<line x1="468" y1="359.0" x2="544" y2="359.0" stroke="#e2e0dd" stroke-width="0.6"/>
<line x1="468" y1="347.9" x2="544" y2="347.9" stroke="#e2e0dd" stroke-width="0.6"/>
<line x1="468" y1="336.8" x2="544" y2="336.8" stroke="#e2e0dd" stroke-width="0.6"/>
<line x1="468" y1="325.7" x2="544" y2="325.7" stroke="#e2e0dd" stroke-width="0.6"/>
<line x1="468" y1="314.6" x2="544" y2="314.6" stroke="#e2e0dd" stroke-width="0.6"/>
<line x1="468" y1="303.5" x2="544" y2="303.5" stroke="#e2e0dd" stroke-width="0.6"/>
<line x1="468" y1="292.4" x2="544" y2="292.4" stroke="#e2e0dd" stroke-width="0.6"/>
<rect x="477.3" y="302.3" width="13.9" height="67.8" fill="#df7a19"/>
<rect x="492" y="367" width="13.3" height="3.1" fill="#3aa7b0"/>
<rect x="506.7" y="367.4" width="13.3" height="2.7" fill="#2b2724"/>
<line x1="468" y1="370.3" x2="544" y2="370.3" stroke="#b8b5b1" stroke-width="0.7"/>
</svg>
<div class="t" style="left:455.90px;top:367px;font-size:6.0px;line-height:7.8px;color:#4a4541;font-weight:400;transform:scaleX(0.875);">0.0</div>
<div class="t" style="left:455.90px;top:356px;font-size:6.0px;line-height:7.8px;color:#4a4541;font-weight:400;transform:scaleX(0.875);">0.5</div>
<div class="t" style="left:455.90px;top:345px;font-size:6.0px;line-height:7.8px;color:#4a4541;font-weight:400;transform:scaleX(0.875);">1.0</div>
<div class="t" style="left:455.90px;top:334px;font-size:6.0px;line-height:7.8px;color:#4a4541;font-weight:400;transform:scaleX(0.875);">1.5</div>
<div class="t" style="left:455.90px;top:323px;font-size:6.0px;line-height:7.8px;color:#4a4541;font-weight:400;transform:scaleX(0.875);">2.0</div>
<div class="t" style="left:455.90px;top:312px;font-size:6.0px;line-height:7.8px;color:#4a4541;font-weight:400;transform:scaleX(0.875);">2.5</div>
<div class="t" style="left:455.90px;top:301px;font-size:6.0px;line-height:7.8px;color:#4a4541;font-weight:400;transform:scaleX(0.875);">3.0</div>
<div class="t" style="left:455.90px;top:289px;font-size:6.0px;line-height:7.8px;color:#4a4541;font-weight:400;transform:scaleX(0.875);">3.5</div>
<div class="t" style="left:474.70px;top:376px;font-size:6.0px;line-height:7.8px;color:#4a4541;font-weight:400;transform:scaleX(0.869);">Execution Time Breakdown</div>
<div class="t" style="left:494.34px;top:382px;font-size:6.0px;line-height:7.8px;color:#4a4541;font-weight:400;transform:scaleX(0.875);">(Seconds)</div>
<div class="r" style="left:553.3px;top:321.0px;width:3.4px;height:3.4px;background:#df7a19;"></div>
<div class="t" style="left:559.50px;top:320px;font-size:6.0px;line-height:7.8px;color:#4a4541;font-weight:400;transform:scaleX(0.875);">Server Time</div>
<div class="r" style="left:553.3px;top:329.33px;width:3.4px;height:3.4px;background:#3aa7b0;"></div>
<div class="t" style="left:559.50px;top:328px;font-size:6.0px;line-height:7.8px;color:#4a4541;font-weight:400;transform:scaleX(0.875);">Streaming Time</div>
<div class="r" style="left:553.3px;top:337.66px;width:3.4px;height:3.4px;background:#2b2724;"></div>
<div class="t" style="left:559.50px;top:336px;font-size:6.0px;line-height:7.8px;color:#4a4541;font-weight:400;transform:scaleX(0.875);">Processing Time</div>
<div class="r" style="left:553.3px;top:345.99px;width:3.4px;height:3.4px;background:#ffffff;box-sizing:border-box;border:0.6px solid #8dc872;"></div>
<div class="t" style="left:559.50px;top:345px;font-size:6.0px;line-height:7.8px;color:#4a4541;font-weight:400;transform:scaleX(0.875);">Render Time</div>
<div class="r" style="left:553.3px;top:354.32px;width:3.4px;height:3.4px;background:#1d4f5f;"></div>
<div class="t" style="left:559.50px;top:353px;font-size:6.0px;line-height:7.8px;color:#4a4541;font-weight:400;transform:scaleX(0.875);">Query Time</div>
<div class="t" style="left:719.00px;top:250px;font-size:6.0px;line-height:7.8px;color:#55504b;font-weight:400;transform:scaleX(0.839);">77 Points</div>
<div class="r" style="left:745px;top:249.5px;width:0.7px;height:8px;background:#eeecea;"></div>
<div class="r" style="left:772.2px;top:249.5px;width:0.7px;height:8px;background:#eeecea;"></div>
<svg width="888" height="450">
<path d="M750.9,250.8 h4.8 v2.6 l-2.4,3 l-2.4,-3z" fill="#fff" stroke="#6a9a3a" stroke-width="0.8" stroke-linejoin="round"/>
<path d="M752.3,252.6 l1,1 l1,-1" fill="none" stroke="#8cb04a" stroke-width="0.6"/>
<path d="M762,251.8 l1.6,1.6 M766.4,251.4 l-1.6,1.8 M762,255.6 l1.6,-1.6 M766.2,255.8 l-1.6,-1.6" stroke="#4f9a3c" stroke-width="1"/>
<circle cx="764.2" cy="253.6" r="0.7" fill="#d6c23a"/>
<rect x="777.3" y="250.4" width="6.4" height="6.6" rx="0.8" fill="none" stroke="#2b2724" stroke-width="0.9"/><rect x="777.3" y="250.4" width="2.4" height="6.6" fill="#2b2724"/>
<rect x="788.4" y="250.4" width="6.2" height="6.8" rx="0.8" fill="none" stroke="#2b2724" stroke-width="0.9"/><line x1="791.5" y1="250.4" x2="791.5" y2="257.2" stroke="#2b2724" stroke-width="0.8"/>
<path d="M794.5,263.4 l4.2,4.2 M798.7,263.4 l-4.2,4.2" stroke="#3d3935" stroke-width="0.7"/>
</svg>
<svg width="888" height="450">
<!-- back arrow -->
<path d="M4.2,8.3 L7,6.1 L7,10.5 Z" fill="#fff"/><rect x="6.5" y="7.6" width="4.3" height="1.4" fill="#fff"/>
<!-- app icon -->
<path d="M22,5.2 h1.6 v1.6 l2.6,-1.6 h2.1 v6.6 h-6.3z" fill="#f2f0ed"/>
<path d="M23.2,8.3 L25.4,7.4 L27.6,6.2" fill="none" stroke="#312d2a" stroke-width="0.8"/>
<circle cx="25.6" cy="9.5" r="0.75" fill="#312d2a"/>
<!-- undo -->
<path d="M638.7,9.3 A2.5,2.5 0 1 1 640.9,11.2" fill="none" stroke="#fff" stroke-width="1.3"/>
<path d="M636.6,7.8 L639.9,10.6 L636.7,11.3z" fill="#fff"/>
<!-- redo -->
<path d="M654.6,10.3 A2.4,2.4 0 1 1 658.3,9.3" fill="none" stroke="#8d8883" stroke-width="1.2"/>
<path d="M660,7.8 L656.9,10.5 L660,11z" fill="#8d8883"/>
<!-- play -->
<path d="M671,5.6 L676,8.3 L671,11z" fill="none" stroke="#fff" stroke-width="1.1" stroke-linejoin="round"/>
<!-- icon 4 -->
<rect x="687" y="5.3" width="6.3" height="6.3" rx="1.8" fill="#cfccc8" stroke="#fff" stroke-width="0.9"/>
<path d="M688.5,10.2 L692,6.5 M688.5,7 L691.5,10" stroke="#6d6864" stroke-width="0.8"/>
<!-- gray icon + caret -->
<rect x="703.3" y="5.2" width="6.6" height="5.2" fill="#6e6965"/>
<path d="M704.6,10.4 v1.4 l1.6,-1.4z" fill="#6e6965"/>
<path d="M704.3,6.9 h4.6 M704.3,8.6 h4.6 M706.6,5.6 v4.4" stroke="#4a4542" stroke-width="0.5"/>
<path d="M711.8,7.6 h4.6 l-2.3,2.3z" fill="#fff"/>
<!-- pin -->
<path d="M729.3,12 C727.5,9.8 726.4,8.6 726.4,7.3 A2.9,2.9 0 0 1 732.2,7.3 C732.2,8.6 731.1,9.8 729.3,12z" fill="#fff"/>
<circle cx="729.3" cy="7.3" r="1.1" fill="#312d2a"/>
<!-- box icon -->
<rect x="742.6" y="4.9" width="6.4" height="6.4" rx="1" fill="none" stroke="#fff" stroke-width="1"/>
<circle cx="745.8" cy="8.1" r="1.6" fill="#fff"/><circle cx="745.8" cy="8.1" r="0.7" fill="#312d2a"/>
<!-- save icon + caret -->
<rect x="759.2" y="5.2" width="6.4" height="6.4" rx="0.6" fill="#e6e3df" stroke="#fff" stroke-width="0.8"/>
<path d="M760.6,7 h3.5 M760.6,9.6 l3.5,-1.5 M762.3,8 v3" stroke="#6f6a65" stroke-width="0.7"/>
<path d="M768,7.6 h4.6 l-2.3,2.3z" fill="#fff"/>
<!-- avatar -->
<circle cx="786.8" cy="8" r="5.4" fill="#fff"/>
<!-- filter icon -->
<path d="M757,22 h6 l-2.4,2.8 v2.4 l-1.2,-0.6 v-1.8z" fill="none" stroke="#3d3935" stroke-width="0.9" stroke-linejoin="round"/>
<path d="M761.2,25.2 l1.8,1.8 M763,25.2 l-1.8,1.8" stroke="#3d3935" stroke-width="0.8"/>
<!-- hexagon icon -->
<path d="M779.6,21.4 L782.8,23.2 L782.8,26.9 L779.6,28.7 L776.4,26.9 L776.4,23.2z" fill="none" stroke="#2d2a27" stroke-width="1"/>
<rect x="778.5" y="23.3" width="2.2" height="3.4" fill="none" stroke="#7a7570" stroke-width="0.6"/>
<circle cx="790.4" cy="22.4" r="0.65" fill="#3d3935"/><circle cx="790.4" cy="24.9" r="0.65" fill="#3d3935"/><circle cx="790.4" cy="27.4" r="0.65" fill="#3d3935"/>
<!-- filter add icon -->
<circle cx="7.4" cy="25" r="2.7" fill="none" stroke="#55504b" stroke-width="0.8"/>
<path d="M7.4,23.6 v2.8" stroke="#55504b" stroke-width="0.8"/>
<!-- canvas add icon -->
<circle cx="82.6" cy="253.3" r="2.5" fill="none" stroke="#55504b" stroke-width="0.7"/>
<circle cx="82.6" cy="253.3" r="0.8" fill="#55504b"/>
</svg>
<div class="r" style="left:766.5px;top:20px;width:0.8px;height:9.5px;background:#e2dfdb;"></div>
<div class="t" style="left:783.49px;top:6px;font-size:4.6px;line-height:5.98px;color:#8a7f98;font-weight:400;transform:scaleX(0.900);">BM</div>
</body></html>
